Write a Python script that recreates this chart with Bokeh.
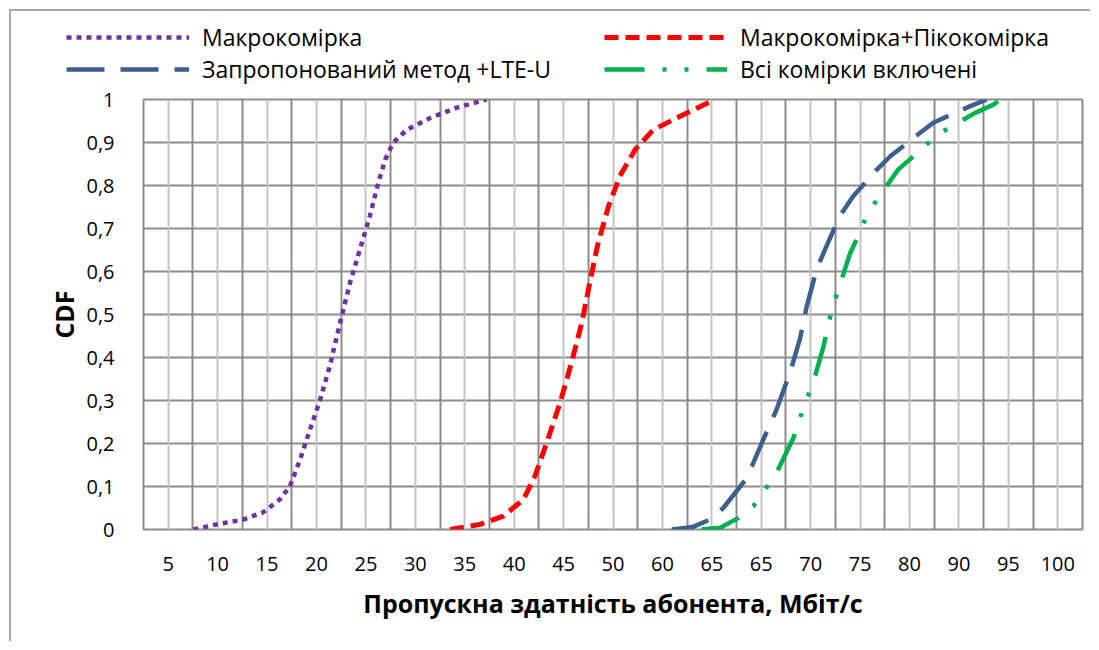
from bokeh.plotting import figure
from bokeh.layouts import column
from bokeh.models import FixedTicker, Grid, Legend, LegendItem
from bokeh.embed import file_html
from bokeh.resources import INLINE

# Category axis labels (Excel-style category axis, as printed in the original)
x_labels = ["5", "10", "15", "20", "25", "30", "35", "40", "45", "50",
            "60", "65", "65", "70", "75", "80", "90", "95", "100"]
y_ticks = [0.0, 0.1, 0.2, 0.3, 0.4, 0.5, 0.6, 0.7, 0.8, 0.9, 1.0]
y_labels = ["0", "0,1", "0,2", "0,3", "0,4", "0,5", "0,6", "0,7", "0,8", "0,9", "1"]

# Series: x in category-axis position units (label k sits at k + 0.5), y = CDF
macro_x = [1.01, 1.48, 2.02, 2.42, 2.76, 2.96, 3.17, 3.37, 3.57, 3.77, 4.01,
           4.18, 4.42, 4.58, 4.75, 4.89, 5.05, 5.33, 5.80, 6.34, 6.94]
macro_y = [0.0, 0.012, 0.023, 0.04, 0.07, 0.10, 0.163, 0.233, 0.30, 0.38, 0.496,
           0.574, 0.667, 0.729, 0.806, 0.86, 0.899, 0.93, 0.957, 0.981, 1.0]

pico_x = [6.20, 6.81, 7.28, 7.69, 7.92, 8.16, 8.43, 8.66, 8.87, 9.03, 9.20,
          9.41, 9.64, 9.95, 10.32, 10.86, 11.56]
pico_y = [0.0, 0.012, 0.031, 0.07, 0.124, 0.202, 0.295, 0.388, 0.481, 0.574, 0.667,
          0.752, 0.822, 0.884, 0.93, 0.961, 1.0]

lteu_x = [10.69, 11.12, 11.46, 11.73, 12.21, 12.54, 12.81, 13.08, 13.28, 13.42,
          13.62, 13.82, 14.09, 14.36, 14.84, 15.11, 15.71, 15.98, 16.72, 17.06]
lteu_y = [0.0, 0.006, 0.023, 0.05, 0.12, 0.209, 0.279, 0.364, 0.442, 0.519,
          0.605, 0.659, 0.729, 0.775, 0.837, 0.868, 0.922, 0.946, 0.984, 1.0]

all_x = [11.29, 11.67, 12.04, 12.34, 12.58, 12.81, 13.15, 13.39, 13.55, 13.76,
         13.93, 14.06, 14.30, 14.46, 14.63, 14.84, 15.27, 15.58, 15.88, 16.18,
         16.83, 17.20, 17.33]
all_y = [0.0, 0.004, 0.027, 0.054, 0.093, 0.132, 0.213, 0.295, 0.341, 0.426,
         0.512, 0.558, 0.643, 0.682, 0.729, 0.767, 0.837, 0.868, 0.899, 0.926,
         0.969, 0.988, 1.0]

names = ["Макрокомірка", "Запропонований метод +LTE-U",
         "Макрокомірка+Пікокомірка", "Всі комірки включені"]

FONT = "Open Sans"
GRID_DARK = "#8c8c8c"
GRID_LIGHT = "#c4c4c4"

styles = [
    dict(line_color="#7030A0", line_width=4.5, line_dash="5 5"),
    dict(line_color="#3C5F8E", line_width=4.5, line_dash="38 16"),
    dict(line_color="#FF0000", line_width=5, line_dash="14 7"),
    dict(line_color="#00B050", line_width=4.5, line_dash="40 18 4 18 4 18"),
]

n_cat = len(x_labels)

# ---------------- main plot ----------------
p = figure(width=1079, height=556, x_range=(0, n_cat), y_range=(0, 1),
           output_backend="svg", toolbar_location=None,
           min_border_left=132, min_border_right=8,
           min_border_top=14, min_border_bottom=112)
p.frame_align = False

p.background_fill_color = "white"
p.border_fill_color = "white"
p.outline_line_color = GRID_DARK
p.outline_line_width = 2

centers = [i + 0.5 for i in range(n_cat)]
p.xaxis.ticker = FixedTicker(ticks=centers)
p.xaxis.major_label_overrides = {c: lab for c, lab in zip(centers, x_labels)}
p.yaxis.ticker = FixedTicker(ticks=y_ticks)
p.yaxis.major_label_overrides = {t: lab for t, lab in zip(y_ticks, y_labels)}

for ax in (p.xaxis, p.yaxis):
    ax.axis_line_color = None
    ax.major_tick_line_color = None
    ax.minor_tick_line_color = None
    ax.major_label_text_font = FONT
    ax.major_label_text_font_size = "20px"
    ax.major_label_text_color = "black"
    ax.axis_label_text_font = FONT
    ax.axis_label_text_font_style = "bold"
    ax.axis_label_text_color = "black"
    ax.axis_label_text_font_size = "25px"

p.xaxis.major_label_standoff = 21
p.yaxis.major_label_standoff = 23
p.xaxis.axis_label = "Пропускна здатність абонента, Мбіт/с"
p.yaxis.axis_label = "CDF"
p.xaxis.axis_label_standoff = 12
p.yaxis.axis_label_standoff = 2

p.xgrid.ticker = FixedTicker(ticks=list(range(n_cat + 1)))
p.xgrid.grid_line_color = GRID_DARK
p.xgrid.grid_line_width = 2
p.ygrid.ticker = FixedTicker(ticks=y_ticks)
p.ygrid.grid_line_color = GRID_DARK
p.ygrid.grid_line_width = 2
p.add_layout(Grid(dimension=0, ticker=FixedTicker(ticks=centers),
                  grid_line_color=GRID_LIGHT, grid_line_width=2))

p.line(macro_x, macro_y, **styles[0])
p.line(lteu_x, lteu_y, **styles[1])
p.line(pico_x, pico_y, **styles[2])
p.line(all_x, all_y, **styles[3])

# ---------------- legend strip above the plot ----------------
top = figure(width=1079, height=74, x_range=(0, 1), y_range=(0, 1),
             output_backend="svg", toolbar_location=None,
             x_axis_type=None, y_axis_type=None,
             min_border_left=0, min_border_right=0,
             min_border_top=0, min_border_bottom=0)
top.frame_align = False
top.outline_line_color = None
top.grid.visible = False

# legend sample renderers: styled like the plot lines, holding no drawable point
nan = float("nan")
samples = [top.line([nan], [nan], **s) for s in styles]

common = dict(orientation="vertical", glyph_width=123, glyph_height=30,
              label_height=30, spacing=0, padding=0, margin=0,
              border_line_alpha=0, background_fill_alpha=0,
              label_text_font=FONT, label_text_font_size="23px",
              label_text_color="black", label_standoff=13)
leg1 = Legend(items=[LegendItem(label=names[0], renderers=[samples[0]]),
                     LegendItem(label=names[1], renderers=[samples[1]])],
              location=(55, 0), **common)
leg2 = Legend(items=[LegendItem(label=names[2], renderers=[samples[2]]),
                     LegendItem(label=names[3], renderers=[samples[3]])],
              location=(593, 0), **common)
top.add_layout(leg1)
top.add_layout(leg2)

layout = column(top, p, spacing=0)
# chart-area frame: thin grey left and top edges, as in the reference
layout.styles = {"margin-left": "9px", "margin-top": "9px",
                 "border-left": "2px solid #a6a6a6",
                 "border-top": "2px solid #a6a6a6"}
open("out.html", "w").write(file_html(layout, INLINE))
